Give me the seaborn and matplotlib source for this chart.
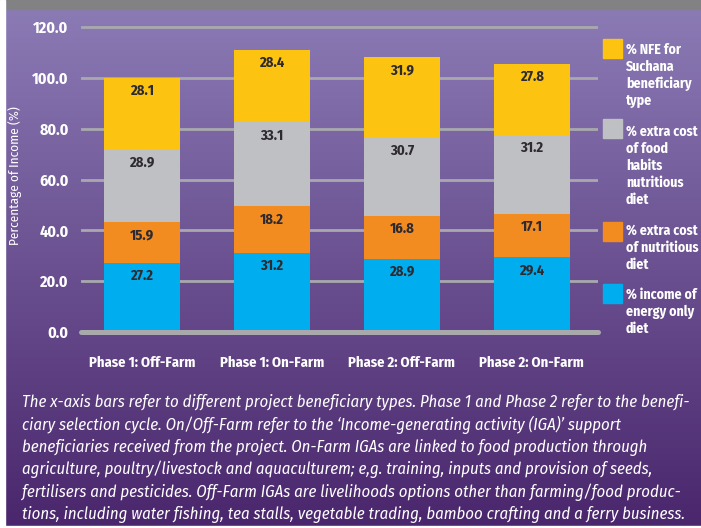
import numpy as np
import pandas as pd
import matplotlib
matplotlib.use("Agg")
import matplotlib.pyplot as plt
import seaborn as sns
from matplotlib.patches import Rectangle

# Dados
tipos = ['Phase 1: Off-Farm', 'Phase 1: On-Farm', 'Phase 2: Off-Farm', 'Phase 2: On-Farm']
energia = [27.2, 31.2, 28.9, 29.4]
extra_nutritiva = [15.9, 18.2, 16.8, 17.1]
extra_habitos = [28.9, 33.1, 30.7, 31.2]
nfe = [28.1, 28.4, 31.9, 27.8]

colunas = ['energia', 'extra_nutritiva', 'extra_habitos', 'nfe']
rotulos = ['% income of\nenergy only\ndiet',
           '% extra cost\nof nutritious\ndiet',
           '% extra cost\nof food\nhabits\nnutritious\ndiet',
           '% NFE for\nSuchana\nbeneficiary\ntype']
cores = ['#00aeef', '#f28b20', '#bfc0c3', '#fcc410']
yticks = [0, 20, 40, 60, 80, 100, 120]

legenda = [
    "The x-axis bars refer to different project beneficiary types. Phase 1 and Phase 2 refer to the benefi-",
    "ciary selection cycle. On/Off-Farm refer to the \u2018Income-generating activity (IGA)\u2019 support",
    "beneficiaries received from the project. On-Farm IGAs are linked to food production through",
    "agriculture, poultry/livestock and aquaculturem; e,g. training, inputs and provision of seeds,",
    "fertilisers and pesticides. Off-Farm IGAs are livelihoods options other than farming/food produc-",
    "tions, including water fishing, tea stalls, vegetable trading, bamboo crafting and a ferry business.",
]

sns.set_style("white")
plt.rcParams['font.family'] = ['Fira Sans Condensed', 'DejaVu Sans']

W, H = 701, 528
fig = plt.figure(figsize=(W / 100, H / 100), dpi=100)

# Fundo em degradê roxo
bg = fig.add_axes([0, 0, 1, 1], zorder=0)
topo = np.array([140, 124, 182]) / 255
base = np.array([74, 38, 108]) / 255
t = np.linspace(0, 1, H)[:, None, None]
grad = topo * (1 - t) + base * t
bg.imshow(grad, aspect='auto', extent=[0, 1, 0, 1])
bg.add_patch(Rectangle((0, 1 - 9 / H), 1, 9 / H, color='#828285'))
bg.add_patch(Rectangle((0, 0), 5 / W, 1, color='white'))
bg.add_patch(Rectangle((0, 0), 1, 2 / H, color='white'))
bg.set_xlim(0, 1)
bg.set_ylim(0, 1)
bg.axis('off')

ax = fig.add_axes([81 / W, (H - 332) / H, 517 / W, 307.5 / H], zorder=1)
ax.patch.set_alpha(0)

df = pd.DataFrame({'tipo': tipos, 'energia': energia, 'extra_nutritiva': extra_nutritiva,
                   'extra_habitos': extra_habitos, 'nfe': nfe})
acum = df[colunas].cumsum(axis=1)
acum['tipo'] = tipos

# Barras empilhadas: desenha do total para baixo
for col, cor in reversed(list(zip(colunas, cores))):
    sns.barplot(data=acum, x='tipo', y=col, color=cor, saturation=1, width=0.585,
                linewidth=0, edgecolor='none', ax=ax, zorder=2)

for col in colunas:
    for i, (y, v) in enumerate(zip(acum[col], df[col])):
        ax.annotate(f'{v:.1f}', (i, y), xytext=(0, -9.5), textcoords='offset points',
                    ha='center', va='center', fontsize=10.5, fontweight='bold', color='#2d2a30', zorder=4)

ax.set_ylim(0, 121)
ax.set_xlim(-0.47, 3.51)
ax.set_axisbelow(True)
ax.yaxis.grid(True, color='#a9a9ad', lw=2)
ax.xaxis.grid(False)
ax.axhline(0, color='#a9a9ad', lw=3.6, zorder=3, clip_on=False)
for s in ax.spines.values():
    s.set_visible(False)

ax.set_yticks(yticks)
ax.set_yticklabels([f'{v:.1f}' for v in yticks], fontweight='bold', fontsize=11.5)
ax.set_xticks(range(len(tipos)))
ax.set_xticklabels(tipos, fontweight='bold', fontsize=10.5)
ax.tick_params(axis='y', length=0, pad=9, colors='white')
ax.tick_params(axis='x', length=0, pad=17, colors='white')
ax.set_xlabel('')
ax.set_ylabel('Percentage of Income (%)', color='white', fontsize=9.5)
ax.yaxis.set_label_coords(-0.114, 0.51)

# Legenda manual (quadrado alinhado à primeira linha)
topos_quad = [284, 222, 119, 39]
centros_txt = [311.5, 247.5, 165.5, 75.5]
for rot, cor, tq, ct in zip(rotulos, cores, topos_quad, centros_txt):
    fig.add_artist(Rectangle((603 / W, 1 - (tq + 19) / H), 19 / W, 19 / H,
                             color=cor, transform=fig.transFigure))
    fig.text(626 / W, 1 - ct / H, rot, color='white', fontsize=10, fontweight='bold',
             va='center', ha='left', linespacing=1.25)

for k, linha in enumerate(legenda):
    fig.text(22 / W, 1 - (402 + 22.5 * k) / H, linha, color='white', fontsize=12,
             fontstyle='italic', va='center', ha='left')

fig.savefig('out.png', dpi=100)
